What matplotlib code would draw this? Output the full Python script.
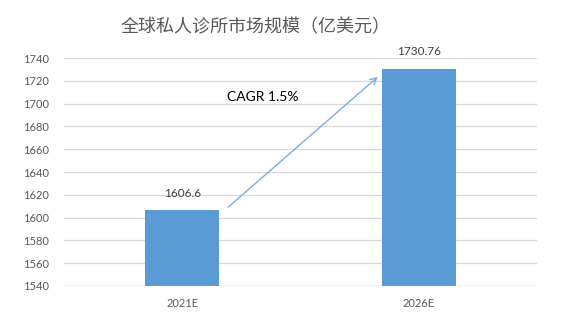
import matplotlib
matplotlib.use("Agg")
import matplotlib.pyplot as plt

plt.rcParams['font.family'] = ['Lato', 'Noto Sans CJK SC', 'DejaVu Sans']

categories = ["2021E", "2026E"]
values = [1606.6, 1730.76]
value_labels = ["1606.6", "1730.76"]
yticks = [1540, 1560, 1580, 1600, 1620, 1640, 1660, 1680, 1700, 1720, 1740]
title = "全球私人诊所市场规模（亿美元）"
cagr_text = "CAGR 1.5%"

fig = plt.figure(figsize=(5.75, 3.29), dpi=100)
ax = fig.add_axes([0.1113, 0.1307, 0.8226, 0.693])

x = list(range(len(categories)))
ax.bar(x, values, width=0.313, color="#5B9BD5", zorder=3)

ax.set_xlim(-0.5, len(categories) - 0.5)
ax.set_ylim(yticks[0], yticks[-1])
ax.set_yticks(yticks)
ax.set_xticks(x)
ax.set_xticklabels(categories)
ax.grid(axis="y", color="#D9D9D9", linewidth=0.9, zorder=0)
for s in ax.spines.values():
    s.set_visible(False)
ax.axhline(yticks[0], color="#D9D9D9", linewidth=1.0, zorder=1)
ax.tick_params(axis="both", length=0, colors="#595959", labelsize=8)
ax.tick_params(axis="y", pad=11)
ax.tick_params(axis="x", pad=9)

for xi, v, lab in zip(x, values, value_labels):
    ax.annotate(lab, (xi, v), xytext=(0, 12), textcoords="offset points",
                ha="center", va="center", fontsize=8.5, color="#404040")

ax.annotate("", xy=(0.836, 1725.1), xytext=(0.185, 1607.5),
            arrowprops=dict(arrowstyle="->", color="#7AAEE0", lw=1.0,
                            mutation_scale=12), zorder=4)
ax.text(0.339, 1705.5, cagr_text, ha="center", va="center",
        fontsize=10, color="#000000")

fig.text(0.445, 0.917, title, ha="center", va="center", fontsize=13,
         color="#595959", family=['Noto Sans CJK SC', 'DejaVu Sans'])

fig.savefig("out.png", dpi=100, facecolor="white")
